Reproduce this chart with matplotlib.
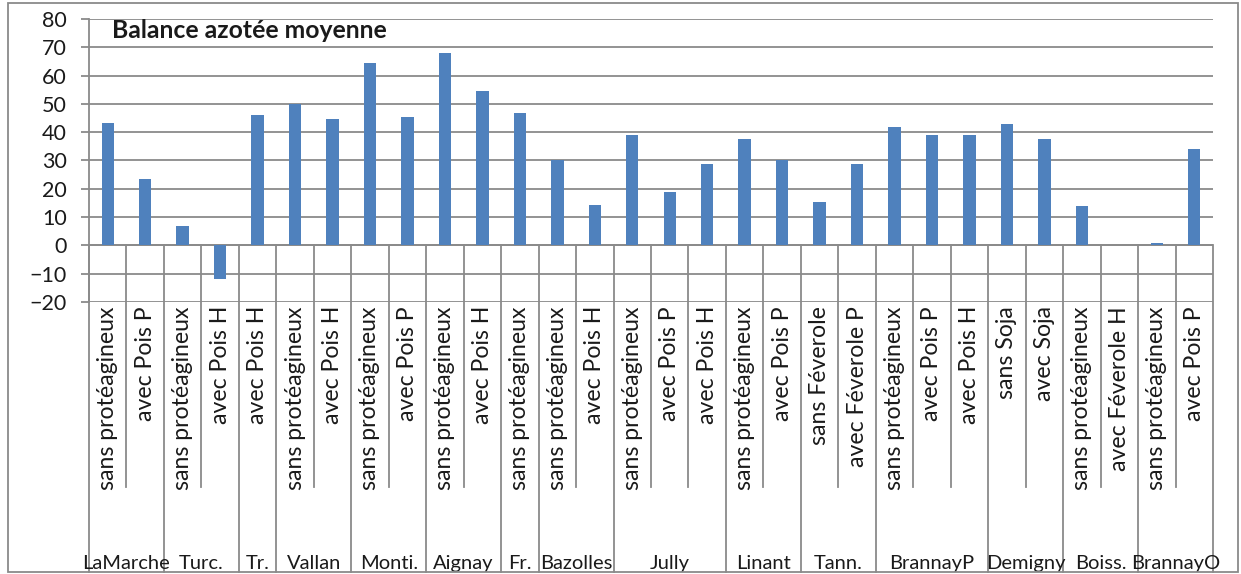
import numpy as np
import matplotlib.pyplot as plt
from matplotlib.patches import Rectangle

plt.rcParams['font.family'] = ['Lato', 'DejaVu Sans']

# sites (level 1) and number of modalities per site
groupes = ["LaMarche", "Turc.", "Tr.", "Vallan", "Monti.", "Aignay", "Fr.", "Bazolles",
           "Jully", "Linant", "Tann.", "BrannayP", "Demigny", "Boiss.", "BrannayO"]
nb_par_groupe = [2, 2, 1, 2, 2, 2, 1, 2, 3, 2, 2, 3, 2, 2, 2]

# modalities (level 2)
modalites = ["sans protéagineux", "avec Pois P",
             "sans protéagineux", "avec Pois H",
             "avec Pois H",
             "sans protéagineux", "avec Pois H",
             "sans protéagineux", "avec Pois P",
             "sans protéagineux", "avec Pois H",
             "sans protéagineux",
             "sans protéagineux", "avec Pois H",
             "sans protéagineux", "avec Pois P", "avec Pois H",
             "sans protéagineux", "avec Pois P",
             "sans Féverole", "avec Féverole P",
             "sans protéagineux", "avec Pois P", "avec Pois H",
             "sans Soja", "avec Soja",
             "sans protéagineux", "avec Féverole H",
             "sans protéagineux", "avec Pois P"]

# balance azotée moyenne (kg N/ha)
balance = [43.2, 23.4,
           6.9, -12.0,
           46.2,
           50.1, 44.6,
           64.6, 45.3,
           67.9, 54.4,
           46.8,
           30.1, 14.2,
           38.9, 18.7, 28.7,
           37.7, 30.1,
           15.3, 28.9,
           41.9, 38.9, 38.9,
           43.0, 37.7,
           13.9, np.nan,
           0.9, 34.0]

W, H = 1241, 574
gris = '#8a8a8a'
texte = '#1a1a1a'

fig = plt.figure(figsize=(W / 100, H / 100), dpi=100)
x0, x1, ytop, ybot = 89, 1213, 19, 302
ax = fig.add_axes([x0 / W, 1 - ybot / H, (x1 - x0) / W, (ybot - ytop) / H])

x = np.arange(len(balance))
ax.bar(x, balance, width=0.33, color='#4F81BD', zorder=3)

ax.set_xlim(-0.5, len(balance) - 0.5)
ax.set_ylim(-20, 80)
ax.set_yticks(range(-20, 81, 10))
ax.set_xticks([])
ax.yaxis.grid(True, color=gris, linewidth=1.3)
ax.set_axisbelow(True)
for s in ['top', 'right', 'bottom']:
    ax.spines[s].set_visible(False)
ax.spines['left'].set_color(gris)
ax.spines['left'].set_linewidth(1.3)
ax.tick_params(axis='y', length=5.8, width=1.3, color=gris, pad=10,
               labelsize=15.5, labelcolor=texte)

# axe des catégories à 0
ax.axhline(0, color=gris, linewidth=1.3, zorder=2)

# tableau des étiquettes sous le graphique
tr = ax.get_xaxis_transform()
def frac(py):
    return (ybot - py) / (ybot - ytop)

y0 = frac(245.4)
bornes = np.cumsum([0] + nb_par_groupe)
for b in range(len(balance) + 1):
    bas = frac(572) if b in bornes else frac(487)
    ax.plot([b - 0.5, b - 0.5], [y0, bas], transform=tr, color=gris,
            linewidth=1.3, clip_on=False, zorder=2)

for i, lab in enumerate(modalites):
    ax.text(i, frac(306), lab, transform=tr, rotation=90, ha='center', va='top',
            fontsize=16.6, color=texte)

for g, nom in enumerate(groupes):
    centre = (bornes[g] + bornes[g + 1] - 1) / 2
    ax.text(centre, frac(569), nom, transform=tr, ha='center', va='baseline',
            fontsize=14.5, color=texte)

ax.text(112, H - 31, "Balance azotée moyenne", transform=None, ha='left',
        va='center', fontsize=17.8, fontweight='bold', color=texte)

# cadre du graphique
fig.patches.append(Rectangle((8 / W, 1 - 572 / H), 1230 / W, 569 / H,
                             transform=fig.transFigure, fill=False,
                             edgecolor=gris, linewidth=1.3))

fig.savefig('out.png', dpi=100)
